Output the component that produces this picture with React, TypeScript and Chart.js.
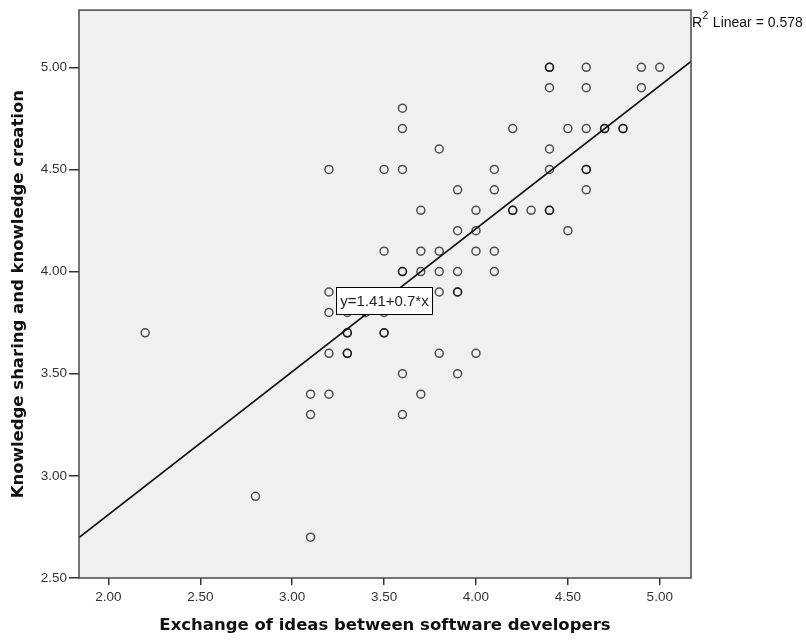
import React, { useEffect, useRef } from "react";
import { Chart, registerables } from "chart.js";

Chart.register(...registerables);

// Respondent scores: exchange of ideas (x) vs. knowledge sharing & creation (y)
const exchangeIdeas = [
  2.2,
  2.8,
  3.1, 3.1, 3.1,
  3.2, 3.2, 3.2, 3.2, 3.2,
  3.3, 3.3, 3.3, 3.3, 3.3,
  3.4,
  3.5, 3.5, 3.5, 3.5, 3.5,
  3.6, 3.6, 3.6, 3.6, 3.6, 3.6, 3.6,
  3.7, 3.7, 3.7, 3.7,
  3.8, 3.8, 3.8, 3.8, 3.8,
  3.9, 3.9, 3.9, 3.9, 3.9, 3.9,
  4.0, 4.0, 4.0, 4.0,
  4.1, 4.1, 4.1, 4.1,
  4.2, 4.2, 4.2,
  4.3,
  4.4, 4.4, 4.4, 4.4, 4.4, 4.4, 4.4,
  4.5, 4.5,
  4.6, 4.6, 4.6, 4.6, 4.6, 4.6,
  4.7, 4.7,
  4.8, 4.8,
  4.9, 4.9,
  5.0,
];

const knowledgeSharing = [
  3.7,
  2.9,
  3.4, 3.3, 2.7,
  4.5, 3.9, 3.8, 3.6, 3.4,
  3.8, 3.7, 3.7, 3.6, 3.6,
  3.8,
  4.5, 4.1, 3.8, 3.7, 3.7,
  4.8, 4.7, 4.5, 4.0, 4.0, 3.5, 3.3,
  4.3, 4.1, 4.0, 3.4,
  4.6, 4.1, 4.0, 3.9, 3.6,
  4.4, 4.2, 4.0, 3.9, 3.9, 3.5,
  4.3, 4.2, 4.1, 3.6,
  4.5, 4.4, 4.1, 4.0,
  4.7, 4.3, 4.3,
  4.3,
  5.0, 5.0, 4.9, 4.6, 4.5, 4.3, 4.3,
  4.7, 4.2,
  5.0, 4.9, 4.7, 4.5, 4.5, 4.4,
  4.7, 4.7,
  4.7, 4.7,
  5.0, 4.9,
  5.0,
];

// Linear fit
const fitIntercept = 1.41;
const fitSlope = 0.7;
const rSquared = 0.578;

// Axis ranges and tick labels
const xMin = 1.84;
const xMax = 5.17;
const yMin = 2.5;
const yMax = 5.28;
const xTicks = [2.0, 2.5, 3.0, 3.5, 4.0, 4.5, 5.0];
const yTicks = [2.5, 3.0, 3.5, 4.0, 4.5, 5.0];

const xTitle = "Exchange of ideas between software developers";
const yTitle = "Knowledge sharing and knowledge creation";

// Where the fit equation box sits (data coordinates)
const equationAnchor = { x: 3.5, y: 3.86 };

const tickFont = { family: '"Liberation Sans", Arial, sans-serif', size: 13.5 };
const titleFont = { family: '"DejaVu Sans", Verdana, sans-serif', size: 16.5, weight: "bold" as const };

const framePlugin = {
  id: "plotFrame",
  beforeDraw(chart: any) {
    const { ctx, chartArea: a } = chart;
    ctx.save();
    ctx.fillStyle = "#f0f0f0";
    ctx.fillRect(a.left, a.top, a.right - a.left, a.bottom - a.top);
    ctx.restore();
  },
  afterDraw(chart: any) {
    const { ctx, chartArea: a } = chart;
    ctx.save();
    // plot frame
    ctx.strokeStyle = "#4a4a4a";
    ctx.lineWidth = 1.5;
    ctx.strokeRect(a.left, a.top, a.right - a.left, a.bottom - a.top);

    // fit equation box
    const eqText = `y=${fitIntercept}+${fitSlope}*x`;
    const cx = chart.scales.x.getPixelForValue(equationAnchor.x);
    const cy = chart.scales.y.getPixelForValue(equationAnchor.y);
    ctx.font = '15px "Liberation Sans", Arial, sans-serif';
    const tw = ctx.measureText(eqText).width;
    const bw = Math.round(tw + 8);
    const bh = 27;
    const bx = Math.round(cx - bw / 2) + 0.5;
    const by = Math.round(cy - bh / 2) + 0.5;
    ctx.fillStyle = "#ffffff";
    ctx.fillRect(bx, by, bw, bh);
    ctx.strokeStyle = "#000000";
    ctx.lineWidth = 1;
    ctx.strokeRect(bx, by, bw, bh);
    ctx.fillStyle = "#222222";
    ctx.textAlign = "center";
    ctx.textBaseline = "middle";
    ctx.fillText(eqText, bx + bw / 2, by + bh / 2 + 1);

    // R² annotation at top right
    const rx = a.right + 1;
    const base = 26.5;
    ctx.textAlign = "left";
    ctx.textBaseline = "alphabetic";
    ctx.fillStyle = "#111111";
    ctx.font = '14px "Liberation Sans", Arial, sans-serif';
    ctx.fillText("R", rx, base);
    const rw = ctx.measureText("R").width;
    ctx.font = '10.5px "Liberation Sans", Arial, sans-serif';
    ctx.fillText("2", rx + rw + 0.5, base - 7.5);
    const sw = ctx.measureText("2").width;
    ctx.font = '14px "Liberation Sans", Arial, sans-serif';
    ctx.fillText(` Linear = ${rSquared}`, rx + rw + sw + 1, base);
    ctx.restore();
  },
};

export default function App() {
  const canvasRef = useRef<HTMLCanvasElement | null>(null);

  useEffect(() => {
    const canvas = canvasRef.current;
    if (!canvas) return;

    const points = exchangeIdeas.map((x, i) => ({ x, y: knowledgeSharing[i] }));
    const fitLine = [
      { x: xMin, y: fitIntercept + fitSlope * xMin },
      { x: xMax, y: fitIntercept + fitSlope * xMax },
    ];

    const chart = new Chart(canvas, {
      type: "scatter",
      data: {
        datasets: [
          {
            type: "line",
            label: "Fit",
            data: fitLine,
            borderColor: "#111111",
            borderWidth: 1.6,
            pointRadius: 0,
            fill: false,
          } as any,
          {
            label: "Respondents",
            data: points,
            pointStyle: "circle",
            pointRadius: 4,
            pointBorderWidth: 1.5,
            borderColor: "rgba(0,0,0,0.68)",
            backgroundColor: "rgba(0,0,0,0)",
          },
        ],
      },
      options: {
        animation: false,
        responsive: false,
        layout: { padding: { left: 0, top: 9, right: 115, bottom: 0 } },
        plugins: {
          legend: { display: false },
          tooltip: { enabled: false },
        },
        scales: {
          x: {
            type: "linear",
            min: xMin,
            max: xMax,
            afterBuildTicks: (scale: any) => {
              scale.ticks = xTicks.map((value) => ({ value }));
            },
            afterFit: (scale: any) => {
              scale.height = 63;
            },
            ticks: {
              font: tickFont,
              color: "#333333",
              padding: 4,
              maxRotation: 0,
              callback: (v: any) => Number(v).toFixed(2),
            },
            grid: {
              drawOnChartArea: false,
              drawTicks: true,
              tickLength: 7,
              color: "#333333",
              lineWidth: 1.5,
            },
            border: { display: false },
            title: {
              display: true,
              text: xTitle,
              font: titleFont,
              color: "#111111",
              padding: { top: 0, bottom: 5 },
            },
          },
          y: {
            type: "linear",
            min: yMin,
            max: yMax,
            afterBuildTicks: (scale: any) => {
              scale.ticks = yTicks.map((value) => ({ value }));
            },
            afterFit: (scale: any) => {
              scale.width = 79;
            },
            ticks: {
              font: tickFont,
              color: "#333333",
              padding: 2,
              callback: (v: any) => Number(v).toFixed(2),
            },
            grid: {
              drawOnChartArea: false,
              drawTicks: true,
              tickLength: 10,
              color: "#333333",
              lineWidth: 1.5,
            },
            border: { display: false },
            title: {
              display: true,
              text: yTitle,
              font: titleFont,
              color: "#111111",
              padding: { top: 9, bottom: 0 },
            },
          },
        },
      },
      plugins: [framePlugin],
    });

    return () => chart.destroy();
  }, []);

  return (
    <div style={{ position: "fixed", left: 0, top: 0, width: 806, height: 641, background: "#ffffff" }}>
      <canvas ref={canvasRef} width={806} height={641} style={{ display: "block" }} />
    </div>
  );
}
